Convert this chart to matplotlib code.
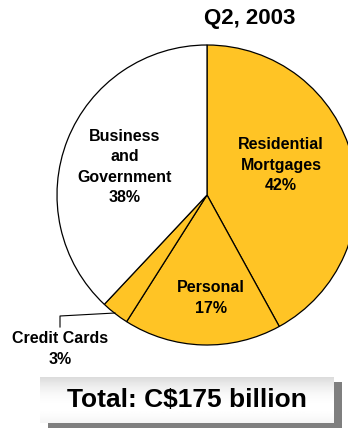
import matplotlib
matplotlib.use('Agg')

import matplotlib.pyplot as plt
import numpy as np
from matplotlib.patches import Rectangle

# Loan portfolio mix, Q2 2003
segments = ['Residential\nMortgages', 'Personal', 'Credit Cards', 'Business\nand\nGovernment']
shares = [42, 17, 3, 38]
slice_colors = ['#FFC425', '#FFC425', '#FFC425', 'white']
period = 'Q2, 2003'
total_text = 'Total: C$175 billion'

plt.rcParams['font.family'] = ['Liberation Sans', 'DejaVu Sans']

W, H = 348, 428
fig = plt.figure(figsize=(W / 100, H / 100), dpi=100)
ax = fig.add_axes([0, 0, 1, 1])

# work in pixel units, y measured from the top
cx, cy, r = 207, 195, 150
ax.pie(shares, colors=slice_colors, startangle=90, counterclock=False,
       center=(cx, H - cy), radius=r,
       wedgeprops=dict(edgecolor='black', linewidth=0.9))

ax.set_xlim(0, W)
ax.set_ylim(0, H)
ax.set_aspect('equal')
ax.axis('off')

lbl = dict(fontsize=11.5, fontweight='bold', ha='center', va='center', linespacing=1.42)

# label anchors (x, y from top) for each segment
anchors = [(281, 165), (211, 298), (60, 349), (125, 167)]
for name, val, (x, y) in zip(segments, shares, anchors):
    ax.text(x, H - y, f'{name}\n{val}%', **lbl)

# leader line for the thin credit card slice
ax.plot([115, 60, 60], [H - 313, H - 316, H - 327], color='black', lw=0.8)

ax.text(250, H - 18, period, fontsize=16, fontweight='bold', ha='center', va='center')

# total box with drop shadow and a light vertical gradient
bx0, bx1, by0, by1 = 40, 334, 377, 423
ax.add_patch(Rectangle((bx0 + 8, H - by1 - 5), bx1 - bx0, by1 - by0,
                       facecolor='#7f7f7f', edgecolor='none', zorder=3))
grad = np.linspace(0, 1, 64)
shade = 0.86 + 0.14 * np.clip(1 - (grad - 0.65) ** 2 / 0.42, 0, 1)
ax.imshow(shade[:, None], cmap='gray', vmin=0, vmax=1, aspect='auto',
          extent=(bx0, bx1, H - by1, H - by0), zorder=4)
ax.text((bx0 + bx1) / 2, H - (by0 + by1) / 2, total_text, fontsize=19,
        fontweight='bold', ha='center', va='center', zorder=5)

ax.set_xlim(0, W)
ax.set_ylim(0, H)

fig.savefig('out.png', dpi=100)
